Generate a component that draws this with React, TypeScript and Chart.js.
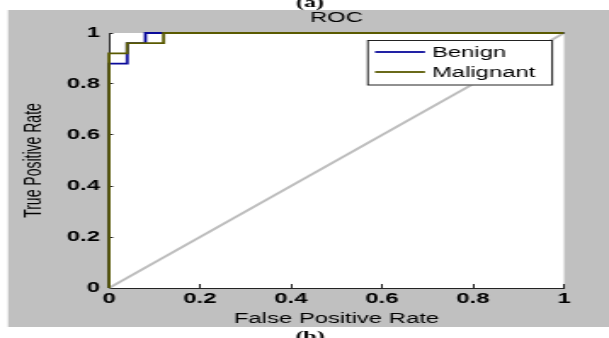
import React, { useEffect, useRef } from 'react';
import { Chart, registerables } from 'chart.js';

Chart.register(...registerables);

// ---- data ----
const seriesNames = ['Benign', 'Malignant'];
const benignFpr = [0, 0, 0.04, 0.04, 0.08, 0.08, 1];
const benignTpr = [0, 0.88, 0.88, 0.96, 0.96, 1, 1];
const malignantFpr = [0, 0, 0.04, 0.04, 0.12, 0.12, 1];
const malignantTpr = [0, 0.92, 0.92, 0.96, 0.96, 1, 1];
const diagonalFpr = [0, 1];
const diagonalTpr = [0, 1];
const xTickLabels = ['0', '0.2', '0.4', '0.6', '0.8', '1'];
const yTickLabels = ['0', '0.2', '0.4', '0.6', '0.8', '1'];
const chartTitle = 'ROC';
const xTitle = 'False Positive Rate';
const yTitle = 'True Positive Rate';
const topCaption = '(a)';
const bottomCaption = '(b)';

// ---- layout (device pixels; canvas is drawn narrower and stretched horizontally) ----
const OUT_W = 609;
const OUT_H = 338;
const W = 358;
const S = OUT_W / W;
const FONT = 'Arial, "Liberation Sans", sans-serif';

const BENIGN_COLOR = '#0a0a9a';
const MALIGNANT_COLOR = '#5a5a00';
const DIAG_COLOR = '#bdbdbd';
const BG_GRAY = '#c0c0c0';

const toPts = (xs: number[], ys: number[]) => xs.map((x, i) => ({ x, y: ys[i] }));

const decorPlugin = {
  id: 'decor',
  beforeDraw(chart: any) {
    const { ctx, chartArea } = chart;
    ctx.save();
    ctx.fillStyle = '#ffffff';
    ctx.fillRect(0, 0, chart.width, chart.height);
    ctx.fillStyle = BG_GRAY;
    ctx.fillRect(8 / S, 10, chart.width - 8 / S, 327 - 10);
    ctx.fillStyle = '#ffffff';
    ctx.fillRect(chartArea.left, chartArea.top, chartArea.right - chartArea.left, chartArea.bottom - chartArea.top);
    ctx.restore();
  },
  afterDraw(chart: any) {
    const { ctx, chartArea } = chart;
    ctx.save();
    // title
    ctx.fillStyle = '#000';
    ctx.font = `14px ${FONT}`;
    ctx.textAlign = 'center';
    ctx.textBaseline = 'middle';
    ctx.fillText(chartTitle, (chartArea.left + chartArea.right) / 2, 18);
    // captions
    ctx.font = 'bold 14px "Liberation Serif", "Times New Roman", serif';
    ctx.textBaseline = 'alphabetic';
    ctx.fillText(topCaption, 310 / S, 6.5);
    ctx.fillText(bottomCaption, 310 / S, 341);

    // legend
    const bx = 367 / S;
    const bxr = 553 / S;
    const by = 40;
    const byb = 85.5;
    ctx.fillStyle = '#ffffff';
    ctx.fillRect(bx, by, bxr - bx, byb - by);
    ctx.strokeStyle = '#222';
    ctx.lineWidth = 1;
    ctx.strokeRect(bx + 0.5, by + 0.5, bxr - bx - 1, byb - by - 1);
    const rowsY = [52, 72];
    seriesNames.forEach((name, i) => {
      const ds = chart.data.datasets.find((d: any) => d.label === name);
      const y = rowsY[i];
      ctx.strokeStyle = ds.borderColor;
      ctx.lineWidth = 1.8;
      ctx.beginPath();
      ctx.moveTo(375 / S, y);
      ctx.lineTo(425 / S, y);
      ctx.stroke();
      ctx.fillStyle = '#000';
      ctx.font = `14px ${FONT}`;
      ctx.textAlign = 'left';
      ctx.textBaseline = 'middle';
      ctx.fillText(name, 432 / S, y + 1);
    });
    ctx.restore();
  },
};

export default function App() {
  const ref = useRef<HTMLCanvasElement | null>(null);

  useEffect(() => {
    if (!ref.current) return;
    const chart = new Chart(ref.current, {
      type: 'scatter',
      data: {
        datasets: [
          {
            label: 'Benign',
            data: toPts(benignFpr, benignTpr),
            borderColor: BENIGN_COLOR,
            backgroundColor: BENIGN_COLOR,
            borderWidth: 1.8,
            showLine: true,
            pointRadius: 0,
            clip: false,
            order: 1,
          },
          {
            label: 'Malignant',
            data: toPts(malignantFpr, malignantTpr),
            borderColor: MALIGNANT_COLOR,
            backgroundColor: MALIGNANT_COLOR,
            borderWidth: 1.8,
            showLine: true,
            pointRadius: 0,
            clip: false,
            order: 0,
          },
          {
            label: 'Chance',
            data: toPts(diagonalFpr, diagonalTpr),
            borderColor: DIAG_COLOR,
            backgroundColor: DIAG_COLOR,
            borderWidth: 1.8,
            showLine: true,
            pointRadius: 0,
            clip: false,
            order: 2,
          },
        ],
      },
      options: {
        responsive: false,
        animation: false,
        devicePixelRatio: 1,
        layout: { padding: { top: 33, right: W - 564 / S, bottom: 0, left: 0 } },
        plugins: {
          legend: { display: false },
          tooltip: { enabled: false },
          title: { display: false },
        },
        scales: {
          x: {
            type: 'linear',
            min: 0,
            max: 1,
            afterFit: (s: any) => {
              s.height = OUT_H - 288;
            },
            afterBuildTicks: (s: any) => {
              s.ticks = xTickLabels.map((_, i) => ({ value: i * 0.2 }));
            },
            ticks: {
              callback: (_v: any, i: number) => xTickLabels[i],
              color: '#000',
              font: { family: FONT, size: 14, weight: 'bold' },
              padding: 6.6,
              maxRotation: 0,
              autoSkip: false,
            },
            grid: { drawOnChartArea: false, drawTicks: true, tickLength: -4, color: '#222', tickWidth: 1 },
            border: { display: true, color: '#222', width: 1 },
            title: {
              display: true,
              text: xTitle,
              color: '#000',
              font: { family: FONT, size: 14 },
              padding: { top: 0, bottom: 10.6 },
            },
          },
          y: {
            type: 'linear',
            min: 0,
            max: 1,
            afterFit: (s: any) => {
              s.width = 109 / S;
            },
            afterBuildTicks: (s: any) => {
              s.ticks = yTickLabels.map((_, i) => ({ value: i * 0.2 }));
            },
            ticks: {
              callback: (_v: any, i: number) => yTickLabels[i],
              color: '#000',
              font: { family: FONT, size: 14, weight: 'bold' },
              padding: 7.7,
              autoSkip: false,
            },
            grid: { drawOnChartArea: false, drawTicks: true, tickLength: -2.4, color: '#222', tickWidth: 1 },
            border: { display: true, color: '#222', width: 1 },
            title: {
              display: true,
              text: yTitle,
              color: '#000',
              font: { family: FONT, size: 14 },
              padding: { top: 12.2, bottom: 0 },
            },
          },
        },
      },
      plugins: [decorPlugin],
    } as any);
    return () => chart.destroy();
  }, []);

  return (
    <div style={{ position: 'absolute', left: 0, top: 0, width: OUT_W, height: OUT_H }}>
      <canvas
        ref={ref}
        width={W}
        height={OUT_H}
        style={{ width: `${OUT_W}px`, height: `${OUT_H}px`, display: 'block' }}
      />
    </div>
  );
}
